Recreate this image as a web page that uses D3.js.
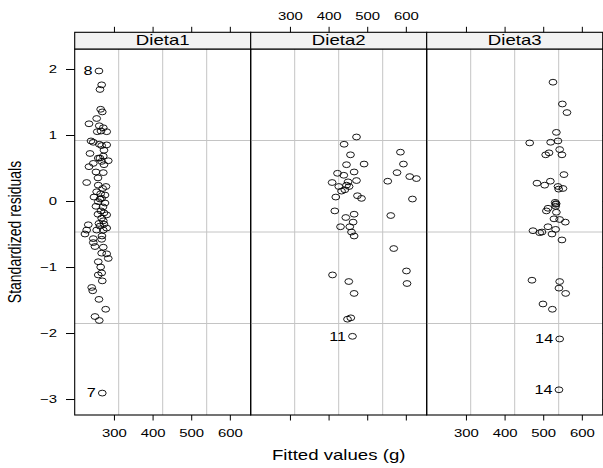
<!DOCTYPE html>
<html>
<head>
<meta charset="utf-8">
<script src="https://cdn.jsdelivr.net/npm/d3@7"></script>
<style>
  html, body { margin: 0; padding: 0; background: #fff; }
  svg { display: block; font-family: "Liberation Sans", Arial, Helvetica, sans-serif; }
</style>
</head>
<body>
<svg id="chart" width="603" height="468"></svg>
<script>
// Residuals vs fitted values, one panel per diet
const diets = ["Dieta1", "Dieta2", "Dieta3"];

const fitted1 = [261.2, 268.2, 263.8, 265.6, 269.8, 255.3, 235.4, 262.0, 272.4, 281.2,
  256.8, 266.4, 240.6, 246.5, 262.0, 268.2, 281.2, 238.0, 272.4, 259.4,
  285.3, 268.2, 246.5, 235.4, 274.2, 253.5, 272.4, 229.4, 259.4, 279.3,
  270.8, 255.3, 265.6, 276.8, 248.3, 268.2, 259.4, 276.8, 253.5, 274.2,
  281.2, 268.2, 272.4, 261.2, 263.8, 281.2, 233.6, 255.3, 229.4, 225.0,
  272.4, 246.5, 268.2, 246.5, 250.9, 272.4, 268.2, 281.2, 285.3, 259.4,
  265.6, 268.2, 259.4, 269.8, 242.4, 245.0, 261.2, 278.6, 250.9, 262.0,
  269.8, 264.0, 271.6, 266.4, 258.7, 274.2, 269.0, 263.8, 274.2, 258.7];
const resid1 = [1.97, 1.76, 1.69, 1.39, 1.35, 1.25, 1.17, 1.14, 1.11, 1.05,
  1.05, 1.06, 0.91, 0.89, 0.86, 0.84, 0.85, 0.72, 0.68, 0.65,
  0.61, 0.60, 0.57, 0.52, 0.55, 0.44, 0.43, 0.28, 0.24, 0.22,
  0.19, 0.14, 0.11, 0.09, 0.06, 0.04, -0.01, -0.03, -0.08, -0.18,
  -0.21, -0.26, -0.30, -0.34, -0.38, -0.41, -0.36, -0.44, -0.44, -0.50,
  -0.44, -0.57, -0.58, -0.63, -0.69, -0.70, -0.79, -0.80, -0.87, -0.92,
  -1.00, -1.09, -1.12, -1.21, -1.31, -1.36, -1.49, -1.64, -1.75, -1.81,
  -2.91, 0.03, -0.09, -0.15, -0.20, -0.35, -0.53, 0.65, 0.77, 0.35];

const fitted2 = [472.3, 440.2, 456.7, 586.0, 446.4, 491.9, 593.8, 466.1, 423.1, 577.2,
  439.4, 610.1, 627.4, 409.2, 450.5, 472.3, 553.2, 426.5, 446.4, 453.1,
  442.0, 433.5, 418.7, 474.8, 485.2, 617.1, 416.1, 466.1, 444.6, 561.0,
  463.5, 430.9, 454.9, 459.3, 466.1, 568.7, 601.6, 410.2, 452.3, 603.1,
  466.1, 457.5, 449.0, 461.9];
const resid2 = [0.97, 0.86, 0.70, 0.74, 0.55, 0.56, 0.56, 0.44, 0.42, 0.43,
  0.39, 0.37, 0.34, 0.28, 0.29, 0.31, 0.30, 0.22, 0.24, 0.22,
  0.17, 0.15, 0.06, 0.08, 0.04, 0.03, -0.15, -0.20, -0.25, -0.22,
  -0.32, -0.39, -0.39, -0.47, -0.53, -0.72, -1.06, -1.12, -1.22, -1.25,
  -1.40, -1.77, -1.79, -2.05];

const fitted3 = [525.3, 549.6, 561.5, 534.1, 465.0, 519.3, 538.2, 542.6, 515.0, 506.4,
  548.5, 553.7, 483.9, 503.8, 518.5, 538.2, 551.1, 540.0, 532.2, 531.0,
  533.5, 532.2, 512.4, 508.2, 534.1, 527.9, 542.6, 557.3, 512.4, 532.2,
  473.5, 490.9, 496.8, 522.7, 548.5, 470.9, 542.6, 540.8, 558.1, 499.4,
  523.7, 542.6, 540.8];
const resid3 = [1.80, 1.47, 1.34, 1.04, 0.88, 0.89, 0.91, 0.78, 0.73, 0.70,
  0.70, 0.40, 0.27, 0.24, 0.30, 0.22, 0.19, 0.18, -0.05, -0.02,
  -0.04, -0.08, -0.11, -0.15, -0.17, -0.27, -0.28, -0.32, -0.39, -0.43,
  -0.45, -0.48, -0.47, -0.50, -0.59, -1.20, -1.22, -1.32, -1.40, -1.56,
  -1.64, -2.09, -2.86];

// Identified observations: panel, index within that panel's arrays, label
const labelDiet = ["Dieta1", "Dieta1", "Dieta2", "Dieta3", "Dieta3"];
const labelIndex = [0, 70, 43, 41, 42];
const labelText = ["8", "7", "11", "14", "14"];

const xTicks = [300, 400, 500, 600];
const yTicks = [-3, -2, -1, 0, 1, 2];

const xLabel = "Fitted values (g)";
const yLabel = "Standardized residuals";

// ---- layout ----
const fittedByDiet = [fitted1, fitted2, fitted3];
const residByDiet = [resid1, resid2, resid3];

const SX = 1.33;              // horizontal text stretch
const padLeft = 74.7, panelW = 176, padTop = 49, panelH = 366, stripH = 16.7;
const svg = d3.select("#chart");

const x = d3.scaleLinear().domain([198.4, 654]).range([0, panelW]);
const y = d3.scaleLinear().domain([-3.242, 2.303]).range([panelH, 0]);

function stretchTexts(g) {
  g.selectAll("text").each(function () {
    const t = d3.select(this);
    const tx = +t.attr("x") || 0, ty = +t.attr("y") || 0;
    t.attr("x", 0).attr("y", 0)
     .attr("transform", `translate(${tx},${ty}) scale(${SX},1)`);
  });
}

function styleAxis(g, showLabels) {
  g.select(".domain").remove();
  g.selectAll(".tick line").attr("stroke", "#000").attr("stroke-width", 1);
  g.selectAll("text").attr("fill", "#000").attr("font-size", 11.2)
    .attr("font-family", '"Liberation Sans", Arial, sans-serif');
  if (!showLabels) g.selectAll("text").remove();
  else stretchTexts(g);
}

diets.forEach((diet, i) => {
  const px = padLeft + i * panelW;
  const g = svg.append("g").attr("transform", `translate(${px},${padTop})`);

  // grid lines dividing the panel in quarters
  const fr = [0.25, 0.5, 0.75];
  g.selectAll("line.gv").data(fr).join("line").attr("class", "gv")
    .attr("x1", d => d * panelW).attr("x2", d => d * panelW)
    .attr("y1", 0).attr("y2", panelH)
    .attr("stroke", "#c4c4c4").attr("stroke-width", 1);
  g.selectAll("line.gh").data(fr).join("line").attr("class", "gh")
    .attr("y1", d => d * panelH).attr("y2", d => d * panelH)
    .attr("x1", 0).attr("x2", panelW)
    .attr("stroke", "#c4c4c4").attr("stroke-width", 1);

  // points
  const fv = fittedByDiet[i], rv = residByDiet[i];
  g.selectAll("ellipse").data(fv.map((f, k) => [f, rv[k]])).join("ellipse")
    .attr("cx", d => x(d[0])).attr("cy", d => y(d[1]))
    .attr("rx", 3.9).attr("ry", 2.9)
    .attr("fill", "none").attr("stroke", "#000").attr("stroke-width", 0.9);

  // identified points
  labelDiet.forEach((ld, j) => {
    if (ld !== diet) return;
    const k = labelIndex[j];
    g.append("text")
      .attr("transform", `translate(${x(fv[k]) - 6.5},${y(rv[k]) + 4.3}) scale(${SX},1)`)
      .attr("text-anchor", "end").attr("font-size", 12.2).attr("fill", "#000")
      .text(labelText[j]);
  });

  // panel border
  g.append("rect").attr("x", 0).attr("y", 0).attr("width", panelW).attr("height", panelH)
    .attr("fill", "none").attr("stroke", "#000").attr("stroke-width", 1.1);

  // strip
  const s = svg.append("g").attr("transform", `translate(${px},${padTop - stripH})`);
  s.append("rect").attr("width", panelW).attr("height", stripH)
    .attr("fill", "#f2f2f2").attr("stroke", "#000").attr("stroke-width", 1.1);
  s.append("text")
    .attr("transform", `translate(${panelW / 2},${stripH - 4}) scale(${SX},1)`)
    .attr("text-anchor", "middle").attr("font-size", 14).attr("fill", "#000")
    .text(diet);

  // top axis (labels on the middle panel), bottom axis (labels on outer panels)
  const topAx = svg.append("g").attr("transform", `translate(${px},${padTop - stripH})`)
    .call(d3.axisTop(x).tickValues(xTicks).tickSize(5.5).tickPadding(7));
  styleAxis(topAx, i === 1);

  const botAx = svg.append("g").attr("transform", `translate(${px},${padTop + panelH})`)
    .call(d3.axisBottom(x).tickValues(xTicks).tickSize(5.5).tickPadding(9));
  styleAxis(botAx, i !== 1);

  if (i === 0) {
    const la = svg.append("g").attr("transform", `translate(${px},${padTop})`)
      .call(d3.axisLeft(y).tickValues(yTicks).tickFormat(d3.format("d"))
        .tickSize(8.7).tickPadding(9));
    styleAxis(la, true);
  }
  if (i === 2) {
    const ra = svg.append("g").attr("transform", `translate(${px + panelW},${padTop})`)
      .call(d3.axisRight(y).tickValues(yTicks).tickSize(8.7));
    styleAxis(ra, false);
  }
});

// axis titles
svg.append("text")
  .attr("transform", `translate(${padLeft + 1.5 * panelW},460) scale(${SX},1)`)
  .attr("text-anchor", "middle").attr("font-size", 14).attr("fill", "#000")
  .text(xLabel);

svg.append("text")
  .attr("transform", `translate(21,${padTop + panelH / 2}) scale(${SX},1) rotate(-90)`)
  .attr("text-anchor", "middle").attr("font-size", 14).attr("fill", "#000")
  .text(yLabel);
</script>
</body>
</html>
